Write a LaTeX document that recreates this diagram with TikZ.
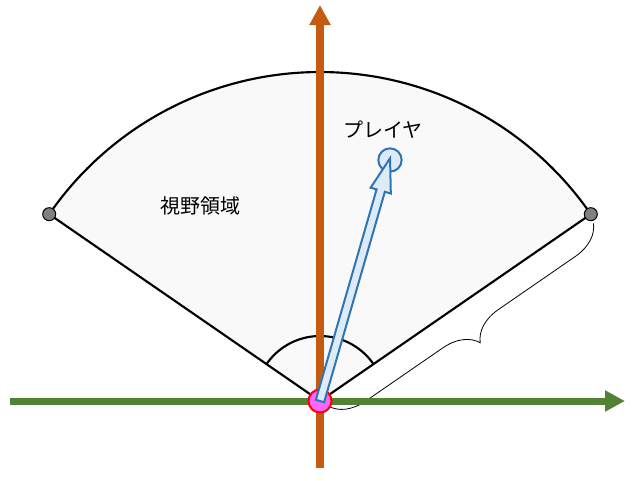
\documentclass[tikz,border=0pt]{standalone}
\usepackage{fontspec}
\newfontfamily\jpfont{Noto Sans CJK JP}
\usetikzlibrary{arrows.meta,decorations.pathreplacing,calc}
\definecolor{axisorange}{HTML}{C55A11}
\definecolor{axisgreen}{HTML}{548235}
\definecolor{playerblue}{HTML}{2E75B6}
\definecolor{playerfill}{HTML}{DEEBF7}
\definecolor{originpink}{HTML}{FF66FF}
\tikzset{
  axisline/.style={line width=6pt, -{Triangle[length=15pt, width=15pt]}},
  edgeline/.style={black, line width=1.6pt, line join=round},
  endpt/.style={circle, draw=black, line width=0.75pt, fill=black!50, minimum size=9.75pt, inner sep=0pt},
  originpt/.style={circle, draw=red, line width=1.5pt, fill=originpink, minimum size=17.25pt, inner sep=0pt},
  playerpt/.style={circle, draw=playerblue, line width=1.5pt, fill=playerfill, minimum size=17.5pt, inner sep=0pt},
  jplabel/.style={font=\jpfont\fontsize{15}{18}\selectfont, inner sep=0pt}
}
\begin{document}
\begin{tikzpicture}[x=0.75pt, y=0.75pt]
 \useasboundingbox (-320,-79) rectangle (314,401);
 \coordinate (O) at (0,0);
 \coordinate (L) at (145.4:329);
 \coordinate (R) at (34.6:329);
 \fill[black!2.5] (O) -- (R) arc[start angle=34.6, end angle=145.4, radius=329] -- cycle;
 \draw[edgeline] (O) -- (R) arc[start angle=34.6, end angle=145.4, radius=329] -- cycle;
 \draw[edgeline] (34.6:65) arc[start angle=34.6, end angle=145.4, radius=65];
 \node[jplabel] (fov) at (-119,195) {視野領域};
 \node[jplabel] (plabel) at (63,271) {プレイヤ};
 \draw[decorate, decoration={brace, amplitude=25.5pt, raise=6.75pt}, line width=0.6pt]
   ($(O)!326/329!(R)$) -- ($(O)!4/329!(R)$);
 \draw[axisline, axisgreen, line width=5.25pt] (-310,0) -- (305,0);
 \draw[axisline, axisorange] (0,-67) -- (0,396);
 \node[endpt] (lend) at (L) {};
 \node[endpt] (rend) at (R) {};
 \node[originpt] (origin) at (O) {};
 \node[playerpt] (player) at (70,241) {};
 \begin{scope}[shift={(O)}, rotate=73.9]
  \draw[playerblue, fill=playerfill, line width=1.5pt, line join=miter]
   (0,-4.3) -- (219,-4.3) -- (219,-10.5) -- (252.6,0) -- (219,10.5) -- (219,4.3) -- (0,4.3) -- cycle;
 \end{scope}
\end{tikzpicture}
\end{document}
